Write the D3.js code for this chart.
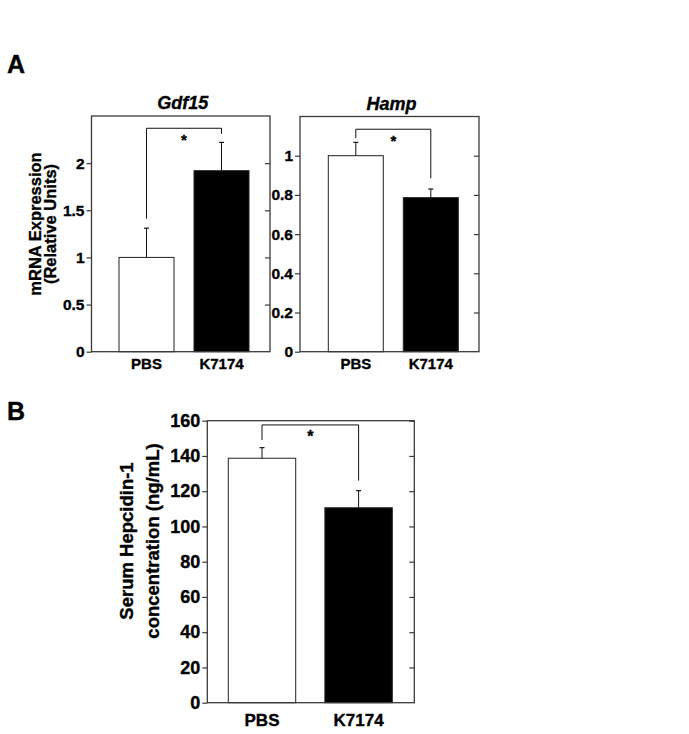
<!DOCTYPE html>
<html>
<head>
<meta charset="utf-8">
<script src="https://cdn.jsdelivr.net/npm/d3@7"></script>
<style>
  html, body { margin: 0; padding: 0; background: #fff; }
  svg text { font-family: "Liberation Sans", Arial, Helvetica, sans-serif; font-weight: bold;
             stroke: #000; stroke-width: 0.35px; paint-order: stroke; }
</style>
</head>
<body>
<svg id="chart" width="689" height="734"></svg>
<script>
// ---- data ----
const categories = ["PBS", "K7174"];
const barFills = ["#ffffff", "#000000"];

const gdf15Means = [1.0, 1.92];
const gdf15Errors = [0.31, 0.30];
const gdf15Ticks = [0, 0.5, 1, 1.5, 2];
const gdf15Bracket = [1.41, 2.37, 2.31];   // left leg end, bar height, right leg end

const hampMeans = [1.0, 0.786];
const hampErrors = [0.068, 0.044];
const hampTicks = [0, 0.2, 0.4, 0.6, 0.8, 1];
const hampBracket = [1.089, 1.135, 0.885];

const hepcidinMeans = [138.7, 110.6];
const hepcidinErrors = [6.0, 9.7];
const hepcidinTicks = [0, 20, 40, 60, 80, 100, 120, 140, 160];
const hepcidinBracket = [149.0, 157.6, 126.0];

const svg = d3.select("#chart");
const frameColor = "#3a3a3a";

function drawPanel(o) {
  const g = svg.append("g");
  const y = d3.scaleLinear().domain(o.domain).range([o.bottom, o.top]);
  const x = d3.scaleBand().domain(categories)
    .range([o.left + o.bandStart, o.left + o.bandEnd])
    .paddingInner(o.padInner).paddingOuter(0);

  // bars
  g.selectAll("rect.bar").data(categories).join("rect")
    .attr("class", "bar")
    .attr("x", d => x(d))
    .attr("width", x.bandwidth())
    .attr("y", (d, i) => y(o.means[i]))
    .attr("height", (d, i) => y(0) - y(o.means[i]))
    .attr("fill", (d, i) => barFills[i])
    .attr("stroke", "#222").attr("stroke-width", 1);

  // error bars
  const eb = g.selectAll("g.err").data(categories).join("g").attr("class", "err");
  eb.append("line")
    .attr("x1", d => x(d) + x.bandwidth() / 2).attr("x2", d => x(d) + x.bandwidth() / 2)
    .attr("y1", (d, i) => y(o.means[i])).attr("y2", (d, i) => y(o.means[i] + o.errors[i]))
    .attr("stroke", "#111").attr("stroke-width", 1);
  eb.append("line")
    .attr("x1", d => x(d) + x.bandwidth() / 2 - 2.5).attr("x2", d => x(d) + x.bandwidth() / 2 + 2.5)
    .attr("y1", (d, i) => y(o.means[i] + o.errors[i])).attr("y2", (d, i) => y(o.means[i] + o.errors[i]))
    .attr("stroke", "#111").attr("stroke-width", 1.2);

  // significance bracket
  const cx0 = x(categories[0]) + x.bandwidth() / 2;
  const cx1 = x(categories[1]) + x.bandwidth() / 2;
  const br = o.bracket;
  g.append("path")
    .attr("d", `M${cx0},${y(br[0])}V${y(br[1])}H${cx1}V${y(br[2])}`)
    .attr("fill", "none").attr("stroke", "#111").attr("stroke-width", 1);
  g.append("text")
    .attr("x", (cx0 + cx1) / 2).attr("y", y(br[1]) + o.starDy)
    .attr("text-anchor", "middle")
    .style("font-size", o.starSize + "px")
    .text("*");

  // frame
  g.append("rect")
    .attr("x", o.left).attr("y", o.top)
    .attr("width", o.right - o.left).attr("height", o.bottom - o.top)
    .attr("fill", "none").attr("stroke", frameColor).attr("stroke-width", 1.3);

  // left axis (outward ticks)
  const ax = g.append("g").attr("transform", `translate(${o.left},0)`)
    .call(d3.axisLeft(y).tickValues(o.ticks).tickSize(5).tickPadding(2).tickFormat(d => String(d)));
  ax.select(".domain").remove();
  ax.selectAll(".tick line").attr("stroke", frameColor).attr("stroke-width", 1.2);
  ax.selectAll(".tick text").attr("fill", "#000").style("font-size", o.tickSize + "px")
    .style("font-family", "'Liberation Sans', Arial, sans-serif").style("font-weight", "bold");

  // right frame ticks (inward)
  const ar = g.append("g").attr("transform", `translate(${o.right},0)`)
    .call(d3.axisLeft(y).tickValues(o.ticks.filter(t => t !== o.domain[0])).tickSize(5).tickFormat(""));
  ar.select(".domain").remove();
  ar.selectAll(".tick line").attr("stroke", frameColor).attr("stroke-width", 1.2);

  // x labels
  g.selectAll("text.xlab").data(categories).join("text")
    .attr("class", "xlab")
    .attr("x", d => x(d) + x.bandwidth() / 2)
    .attr("y", o.xLabelY)
    .attr("text-anchor", "middle")
    .style("font-size", o.xLabelSize + "px")
    .text(d => d);

  if (o.title) {
    g.append("text")
      .attr("x", (o.left + o.right) / 2 + 2).attr("y", o.top - 7)
      .attr("text-anchor", "middle")
      .style("font-size", "18px").style("font-style", "italic")
      .text(o.title);
  }
}

drawPanel({
  left: 91.5, right: 270, top: 116, bottom: 351.7,
  domain: [0, 2.5], ticks: gdf15Ticks,
  means: gdf15Means, errors: gdf15Errors, bracket: gdf15Bracket,
  bandStart: 27.5, bandEnd: 157.5, padInner: 20 / 75,
  tickSize: 15.5, xLabelSize: 15, xLabelY: 369,
  starSize: 15, starDy: 17, title: "Gdf15"
});

drawPanel({
  left: 300, right: 479, top: 116.5, bottom: 351.7,
  domain: [0, 1.2], ticks: hampTicks,
  means: hampMeans, errors: hampErrors, bracket: hampBracket,
  bandStart: 28.3, bandEnd: 158.3, padInner: 20 / 75,
  tickSize: 15.5, xLabelSize: 15, xLabelY: 369,
  starSize: 15, starDy: 17, title: "Hamp"
});

drawPanel({
  left: 207.3, right: 414.3, top: 420.7, bottom: 702.7,
  domain: [0, 160], ticks: hepcidinTicks,
  means: hepcidinMeans, errors: hepcidinErrors, bracket: hepcidinBracket,
  bandStart: 21, bandEnd: 185, padInner: 29 / 96,
  tickSize: 18, xLabelSize: 17, xLabelY: 726,
  starSize: 16, starDy: 17, title: null
});

// panel letters
svg.append("text").attr("x", 7).attr("y", 73).style("font-size", "25px").text("A");
svg.append("text").attr("x", 7).attr("y", 420).style("font-size", "25px").text("B");

// y-axis titles
function yTitle(cx, cy, lines, size, gap) {
  const t = svg.append("g").attr("transform", `translate(${cx},${cy}) rotate(-90)`);
  lines.forEach((s, i) => {
    t.append("text").attr("x", 0).attr("y", (i - (lines.length - 1) / 2) * gap)
      .attr("text-anchor", "middle").attr("dominant-baseline", "central")
      .style("font-size", size + "px").text(s);
  });
}
yTitle(42, 224, ["mRNA Expression", "(Relative Units)"], 16.5, 15);
yTitle(139, 541, ["Serum Hepcidin-1", "concentration (ng/mL)"], 18.5, 26);
</script>
</body>
</html>
